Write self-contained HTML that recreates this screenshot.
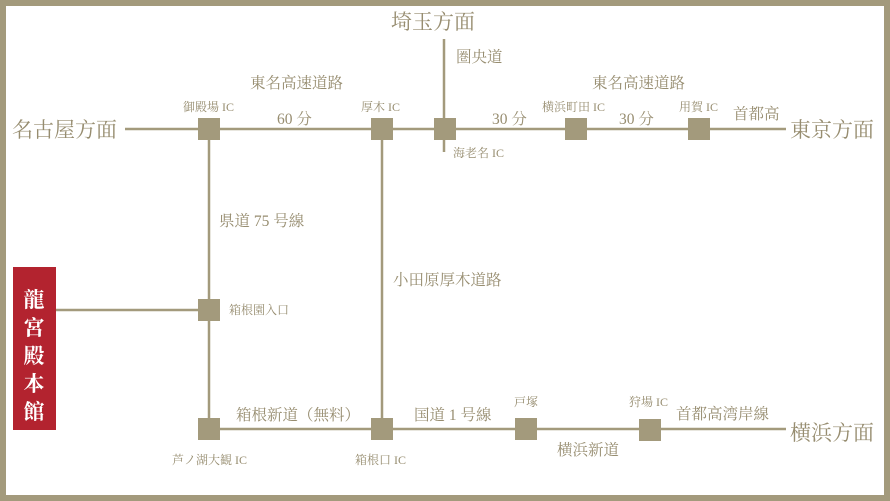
<!DOCTYPE html>
<html><head><meta charset="utf-8"><style>
html,body{margin:0;padding:0;background:#fff}
svg{display:block}
text{font-family:"Liberation Serif","Noto Serif CJK SC",serif;fill:#978d70}
</style></head><body>
<svg width="890" height="501" viewBox="0 0 890 501">
<rect x="0" y="0" width="890" height="501" fill="#a39a7c"/>
<rect x="6" y="6" width="878" height="489" fill="#fff"/>
<g stroke="#a39a7c" stroke-width="2.5" fill="none">
<line x1="125" y1="129" x2="786" y2="129"/>
<line x1="444" y1="39" x2="444" y2="152"/>
<line x1="209" y1="129" x2="209" y2="428"/>
<line x1="382" y1="129" x2="382" y2="428"/>
<line x1="55" y1="310" x2="209" y2="310"/>
<line x1="209" y1="429" x2="786" y2="429"/>
</g>
<g fill="#a39a7c">
<rect x="198" y="118" width="22" height="22"/>
<rect x="371" y="118" width="22" height="22"/>
<rect x="434" y="118" width="22" height="22"/>
<rect x="565" y="118" width="22" height="22"/>
<rect x="688" y="118" width="22" height="22"/>
<rect x="198" y="299" width="22" height="22"/>
<rect x="198" y="418" width="22" height="22"/>
<rect x="371" y="418" width="22" height="22"/>
<rect x="515" y="418" width="22" height="22"/>
<rect x="639" y="419" width="22" height="22"/>
</g>
<rect x="13" y="267" width="43" height="163" fill="#b3232f"/>
<g font-size="21" text-anchor="middle" style="font-weight:bold">
<text x="34" y="307" style="fill:#fff">龍</text>
<text x="34" y="335" style="fill:#fff">宮</text>
<text x="34" y="363" style="fill:#fff">殿</text>
<text x="34" y="391" style="fill:#fff">本</text>
<text x="34" y="419" style="fill:#fff">館</text>
</g>
<g font-size="21">
<text x="12" y="137">名古屋方面</text>
<text x="790" y="137">東京方面</text>
<text x="790" y="440">横浜方面</text>
<text x="391" y="29">埼玉方面</text>
</g>
<g font-size="15.5">
<text x="250" y="88">東名高速道路</text>
<text x="277" y="124">60 分</text>
<text x="592" y="88">東名高速道路</text>
<text x="492" y="124">30 分</text>
<text x="619" y="124">30 分</text>
<text x="456" y="62">圏央道</text>
<text x="733" y="119">首都高</text>
<text x="219" y="226">県道 75 号線</text>
<text x="393" y="285">小田原厚木道路</text>
<text x="236" y="420">箱根新道（無料）</text>
<text x="414" y="420">国道 1 号線</text>
<text x="676" y="419">首都高湾岸線</text>
<text x="557" y="455">横浜新道</text>
</g>
<g font-size="12">
<text x="183" y="111">御殿場 IC</text>
<text x="361" y="111">厚木 IC</text>
<text x="453" y="157">海老名 IC</text>
<text x="542" y="111">横浜町田 IC</text>
<text x="679" y="111">用賀 IC</text>
<text x="229" y="314">箱根園入口</text>
<text x="172" y="464">芦ノ湖大観 IC</text>
<text x="355" y="464">箱根口 IC</text>
<text x="514" y="406">戸塚</text>
<text x="629" y="406">狩場 IC</text>
</g>
</svg>
</body></html>
